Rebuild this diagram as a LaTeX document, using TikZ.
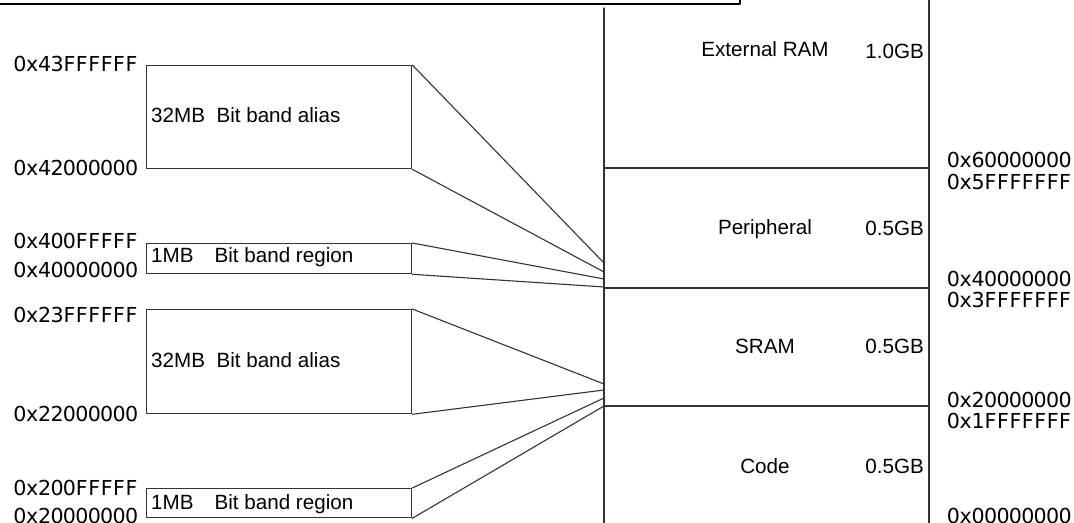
\documentclass[tikz,border=0pt]{standalone}
\usepackage{fontspec}
\setmainfont{Liberation Sans}
\newfontfamily\hexfont{DejaVu Sans}
\usetikzlibrary{positioning}
\definecolor{linegray}{rgb}{0.2,0.2,0.2}
\makeatletter
\newcommand\hexstr[1]{\@tfor\hx@c:=#1\do{\makebox[0.602em]{\hx@c}}}
\makeatother
\tikzset{
  bandbox/.style={draw=linegray, line width=1.3bp, minimum width=265bp, inner sep=0pt, anchor=north west},
  addr/.style={font=\hexfont\fontsize{20.7}{24}\selectfont, inner sep=0pt},
  lbl/.style={font=\fontsize{20.7}{24}\selectfont, inner sep=0pt},
  wire/.style={draw=linegray, line width=1.1bp},
}

\begin{document}
\begin{tikzpicture}[line cap=round,line join=round,x=1bp,y=-1bp]
    \useasboundingbox (0,0) rectangle (1074,523);
    % frame corner left over at the top
    \draw [line width=1.3bp] (0,4) -- (740,4) -- (740,0);
    % memory map
    \draw [linegray, line width=1.3bp] (604,8) -- (604,530);
    \draw [linegray, line width=1.3bp] (929,0) -- (929,530);
    \foreach \y in {168,288,406}
      \draw [linegray, line width=1.3bp] (604,\y) -- (929,\y);
    \node[lbl, anchor=base] (extram) at (765,57) {External RAM};
    \node[lbl, anchor=base east] (extsize) at (924,59) {1.0GB};
    \node[lbl, anchor=base] (periph) at (765,235) {Peripheral};
    \node[lbl, anchor=base east] (periphsize) at (924,236) {0.5GB};
    \node[lbl, anchor=base] (sram) at (765,354) {SRAM};
    \node[lbl, anchor=base east] (sramsize) at (924,354) {0.5GB};
    \node[lbl, anchor=base] (code) at (765,473) {Code};
    \node[lbl, anchor=base east] (codesize) at (924,473) {0.5GB};
    % addresses of the map
    \node[addr, anchor=base west] (a60) at (947,168) {\hexstr{0x60000000}};
    \node[addr, anchor=base west] (a5f) at (947,190) {\hexstr{0x5FFFFFFF}};
    \node[addr, anchor=base west] (a40) at (947,287) {\hexstr{0x40000000}};
    \node[addr, anchor=base west] (a3f) at (947,308) {\hexstr{0x3FFFFFFF}};
    \node[addr, anchor=base west] (a20) at (947,407) {\hexstr{0x20000000}};
    \node[addr, anchor=base west] (a1f) at (947,428) {\hexstr{0x1FFFFFFF}};
    \node[addr, anchor=base west] (a00) at (947,523) {\hexstr{0x00000000}};
    % bit band boxes
    \node[bandbox, minimum height=103bp] (alias4) at (146,65) {};
    \node[bandbox, minimum height=30bp] (region4) at (146,243) {};
    \node[bandbox, minimum height=104bp] (alias2) at (146,309) {};
    \node[bandbox, minimum height=29bp] (region2) at (146,488) {};
    \node[lbl, anchor=base west] (alias4txt) at (151,123) {32MB\ \ Bit band alias};
    \node[lbl, anchor=base west] (region4txt) at (151,263) {1MB\hspace{21bp}Bit band region};
    \node[lbl, anchor=base west] (alias2txt) at (151,368) {32MB\ \ Bit band alias};
    \node[lbl, anchor=base west] (region2txt) at (151,509) {1MB\hspace{21bp}Bit band region};
    % addresses of the boxes
    \node[addr, anchor=base east] (b43) at (138,72) {\hexstr{0x43FFFFFF}};
    \node[addr, anchor=base east] (b42) at (138,176) {\hexstr{0x42000000}};
    \node[addr, anchor=base east] (b40f) at (138,249) {\hexstr{0x400FFFFF}};
    \node[addr, anchor=base east] (b40) at (138,278) {\hexstr{0x40000000}};
    \node[addr, anchor=base east] (b23) at (138,323) {\hexstr{0x23FFFFFF}};
    \node[addr, anchor=base east] (b22) at (138,421) {\hexstr{0x22000000}};
    \node[addr, anchor=base east] (b20f) at (138,495) {\hexstr{0x200FFFFF}};
    \node[addr, anchor=base east] (b20) at (138,523) {\hexstr{0x20000000}};
    % ends of the fan on the map
    \coordinate (m1) at (604,263);
    \coordinate (m2) at (604,272);
    \coordinate (m3) at (604,279);
    \coordinate (m4) at (604,287);
    \coordinate (m5) at (604,384);
    \coordinate (m6) at (604,390);
    \coordinate (m7) at (604,398);
    \coordinate (m8) at (604,406);
    \draw[wire] (alias4.north east) -- (m1);
    \draw[wire] (alias4.south east) -- (m2);
    \draw[wire] (region4.north east) -- (m3);
    \draw[wire] (region4.south east) -- (m4);
    \draw[wire] (alias2.north east) -- (m5);
    \draw[wire] (alias2.south east) -- (m6);
    \draw[wire] (region2.north east) -- (m7);
    \draw[wire] (region2.south east) -- (m8);
\end{tikzpicture}
\end{document}
